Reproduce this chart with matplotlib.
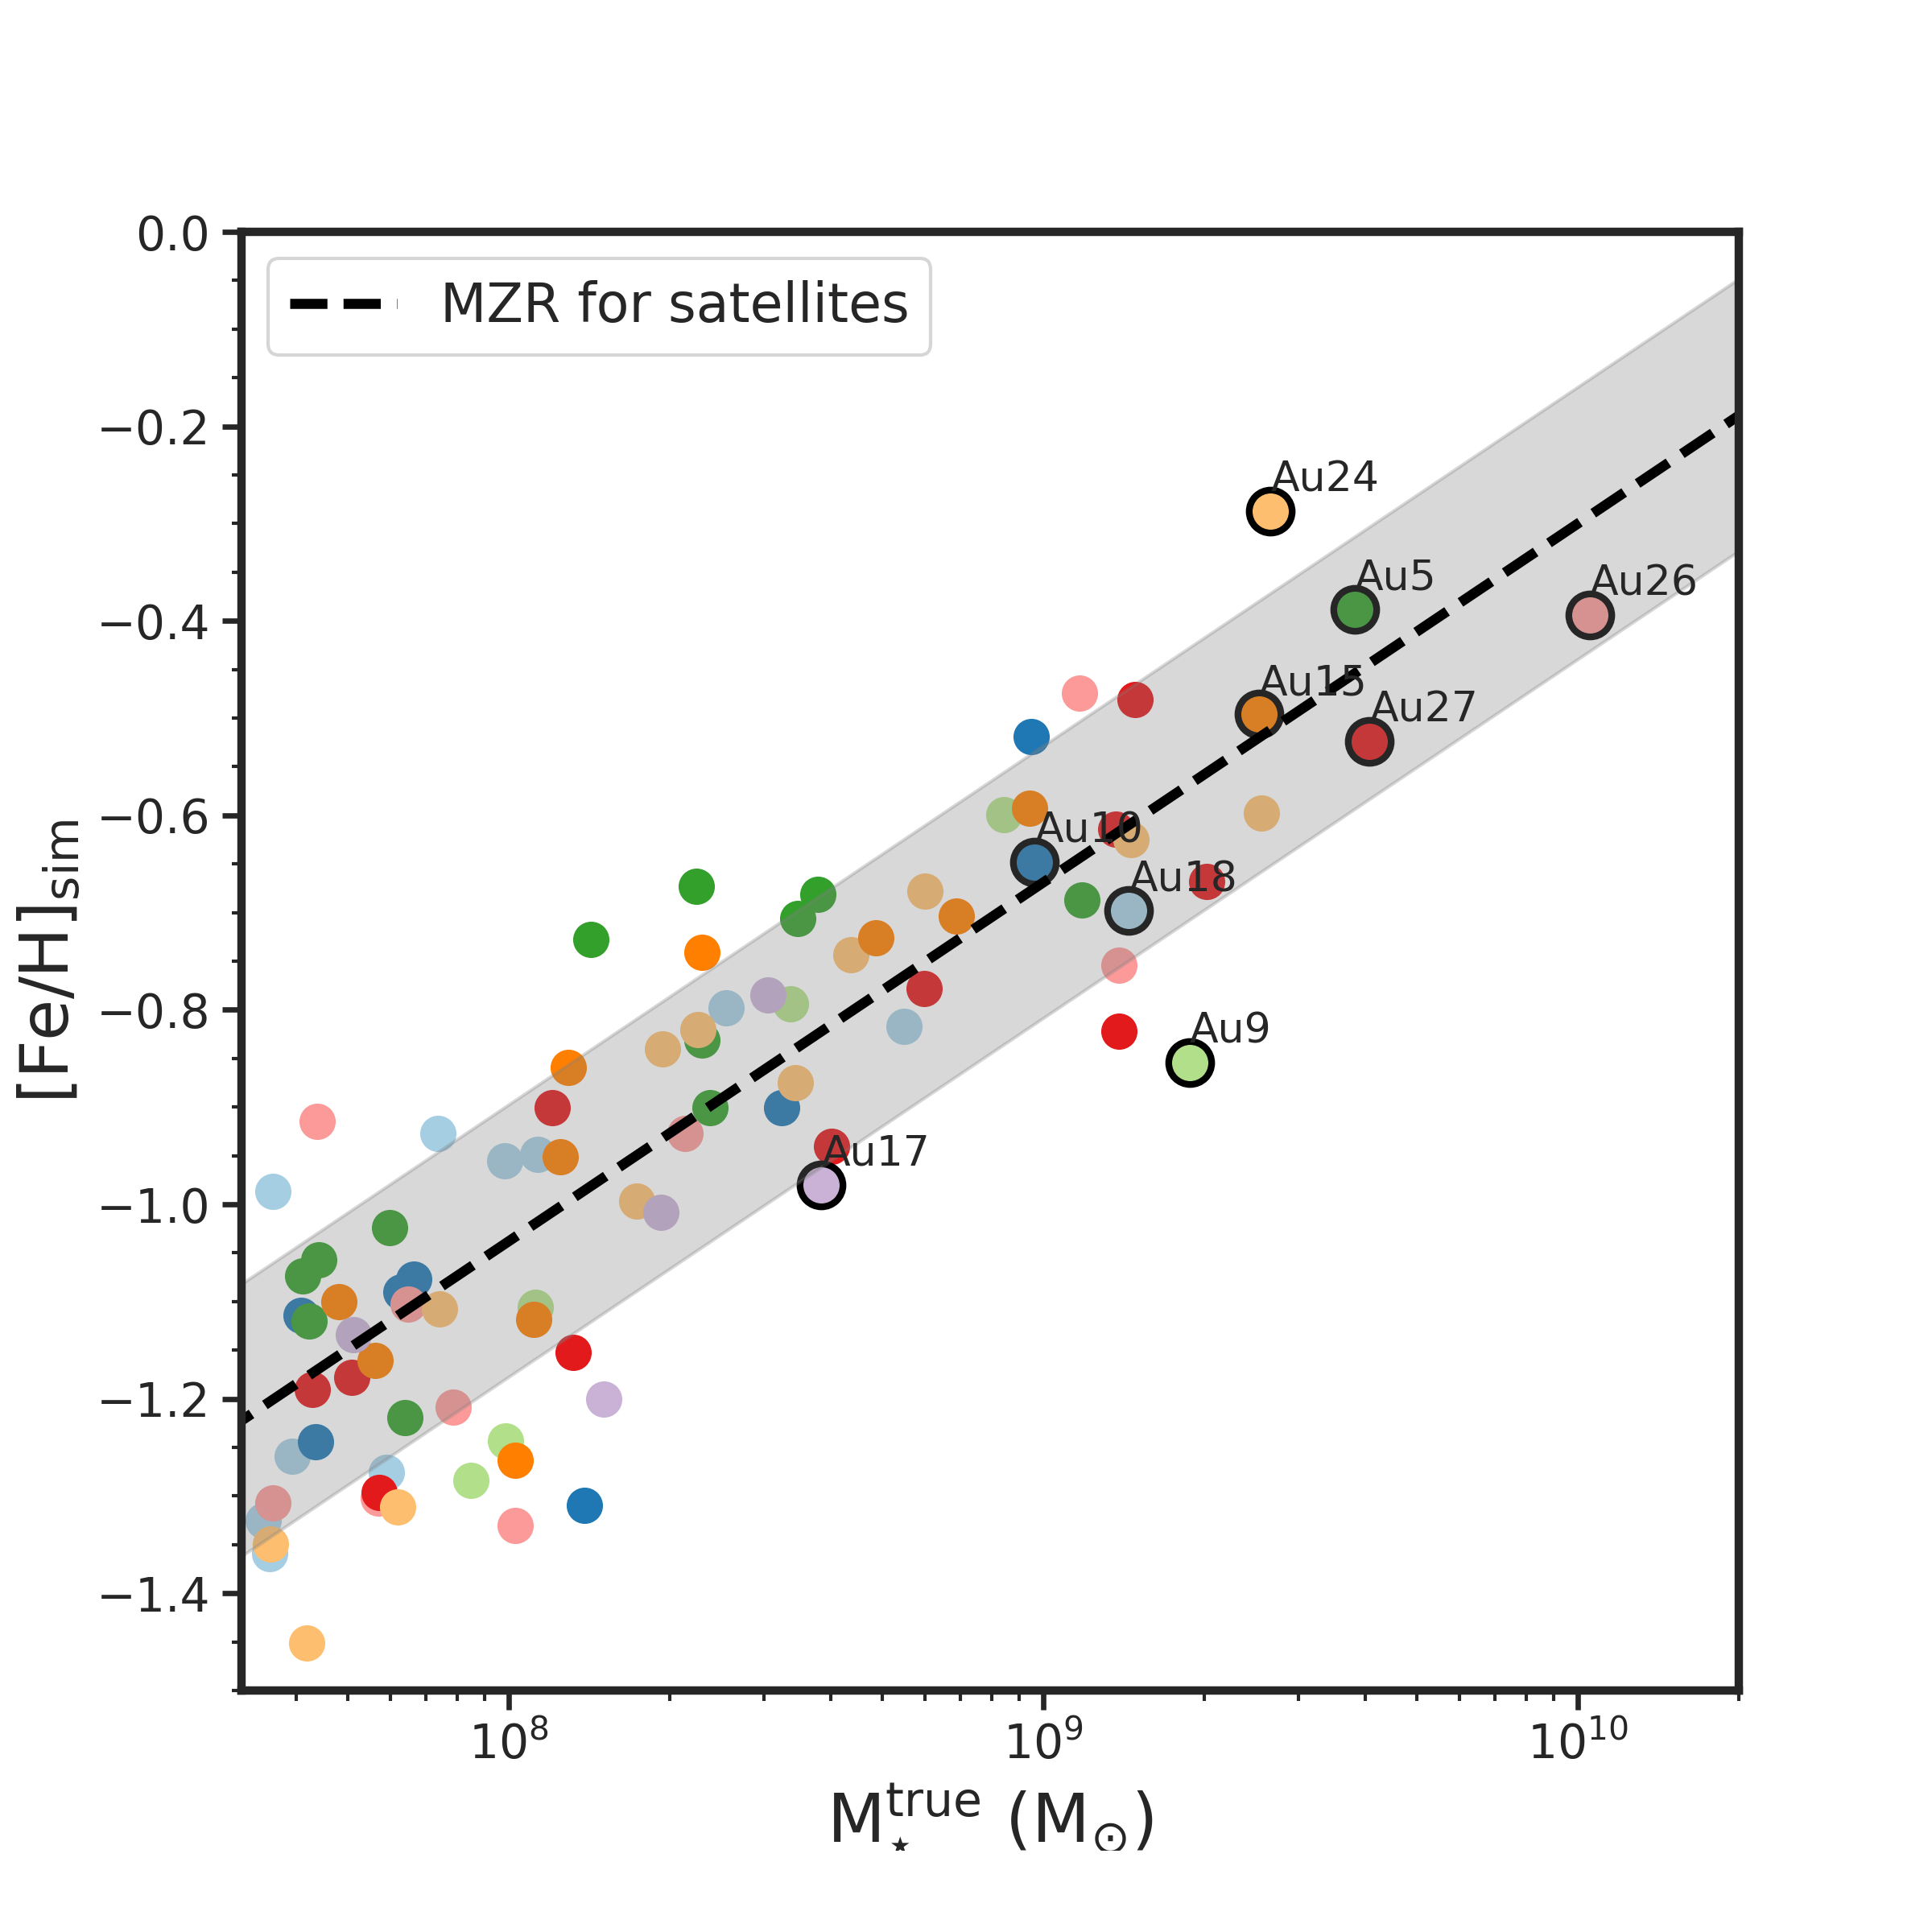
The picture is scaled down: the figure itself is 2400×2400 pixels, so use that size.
#!/usr/bin/env python3
"""
Mass-metallicity relation of Auriga satellites
"""

import numpy as np
import matplotlib
matplotlib.use('Agg')
import matplotlib.pyplot as plt
from matplotlib.ticker import AutoMinorLocator

# host haloes, colour and host galaxy position (log10 M*, [Fe/H])
halos = ['Au18', 'Au10', 'Au9', 'Au5', 'Au26', 'Au27', 'Au24', 'Au15', 'Au17']
colors = ['#a6cee3', '#1f78b4', '#b2df8a', '#33a02c', '#fb9a99',
          '#e31a1c', '#fdbf6f', '#ff7f00', '#cab2d6']
host_logm = [9.160, 8.984, 9.274, 9.582, 10.022, 9.610, 9.425, 9.403, 8.585]
host_feh = [-0.698, -0.648, -0.854, -0.388, -0.394, -0.524, -0.287, -0.496, -0.980]

# satellites of each halo
sat_logm = {
    'Au18': [7.867, 7.558, 7.992, 8.054, 7.595, 7.771, 7.540, 7.552, 8.740, 8.407],
    'Au10': [8.510, 7.822, 7.798, 7.611, 7.639, 8.141, 8.977],
    'Au9': [8.049, 7.994, 7.929, 8.527, 8.926],
    'Au5': [8.376, 7.777, 7.645, 7.615, 7.626, 7.805, 8.154, 8.351, 8.578,
            8.541, 8.362, 9.072],
    'Au26': [7.641, 8.330, 7.812, 7.896, 7.756, 8.012, 7.558, 9.067, 9.142],
    'Au27': [8.082, 8.120, 7.707, 7.632, 7.758, 8.777, 8.604, 9.172, 9.135,
             9.306, 9.142],
    'Au24': [8.287, 8.240, 7.870, 7.792, 7.554, 7.622, 8.778, 8.640, 8.354,
             8.536, 9.408, 9.164],
    'Au15': [8.112, 8.096, 7.682, 8.047, 7.750, 8.012, 8.361, 8.838, 8.686, 8.974],
    'Au17': [8.284, 7.710, 8.178, 8.485],
}
sat_feh = {
    'Au18': [-0.927, -0.987, -0.955, -0.949, -1.259, -1.276, -1.325, -1.359,
             -0.817, -0.798],
    'Au10': [-0.901, -1.077, -1.090, -1.114, -1.244, -1.310, -0.519],
    'Au9': [-1.106, -1.243, -1.284, -0.794, -0.599],
    'Au5': [-0.901, -1.024, -1.057, -1.074, -1.120, -1.219, -0.728, -0.673,
            -0.681, -0.706, -0.831, -0.687],
    'Au26': [-0.915, -0.927, -1.103, -1.209, -1.302, -1.330, -1.307, -0.474, -0.754],
    'Au27': [-0.901, -1.152, -1.178, -1.190, -1.296, -0.778, -0.940, -0.481,
             -0.614, -0.668, -0.822],
    'Au24': [-0.840, -0.997, -1.108, -1.311, -1.349, -1.451, -0.678, -0.743,
             -0.820, -0.875, -0.598, -0.625],
    'Au15': [-0.859, -0.951, -1.100, -1.118, -1.161, -1.263, -0.741, -0.704,
             -0.726, -0.593],
    'Au17': [-1.008, -1.134, -1.200, -0.785],
}

# MZR fit: [Fe/H] = norm + slope * (log M - 8), scatter
mzr_norm = -1.038
mzr_slope = 0.369
mzr_scatter = 0.14

plt.rcParams['font.family'] = 'DejaVu Sans'
plt.rcParams['mathtext.fontset'] = 'dejavusans'
for key in ['text.color', 'axes.labelcolor', 'xtick.color', 'ytick.color',
            'axes.edgecolor']:
    plt.rcParams[key] = '#262626'

fig, ax = plt.subplots(figsize=(8, 8), dpi=300)
fig.subplots_adjust(left=0.125, right=0.9, bottom=0.125, top=0.88)

for name, col in zip(halos, colors):
    ax.scatter(10 ** np.array(sat_logm[name]), sat_feh[name], s=117,
               color=col, linewidths=0)

for name, col, lm, fe in zip(halos, colors, host_logm, host_feh):
    ax.scatter(10 ** lm, fe, s=164, facecolor=col, edgecolor='black',
               linewidths=2.0)
    ax.text(10 ** lm, fe + 0.02, name, fontsize=12.5)

lm = np.linspace(7.0, 11.0, 200)
mzr = mzr_norm + mzr_slope * (lm - 8)
ax.fill_between(10 ** lm, mzr - mzr_scatter, mzr + mzr_scatter,
                color='gray', alpha=0.3)
ax.plot(10 ** lm, mzr, 'k--', lw=3, label='MZR for satellites')

ax.set_xscale('log')
ax.set_xlim(10 ** 7.5, 2e10)
ax.set_ylim(-1.5, 0.0)
ax.yaxis.set_minor_locator(AutoMinorLocator(4))

for side in ax.spines.values():
    side.set_linewidth(2.5)
ax.tick_params(which='major', length=5.8, width=1.6, labelsize=14)
ax.tick_params(which='minor', length=3.0, width=1.0)

ax.set_xlabel(r'$\rm M_{\star}^{true}\ (M_{\odot})$', fontsize=20)
ax.set_ylabel(r'[Fe/H]$_{\rm sim}$', fontsize=20)

ax.legend(loc='upper left', fontsize=16)

fig.savefig('out.png', dpi=300)
